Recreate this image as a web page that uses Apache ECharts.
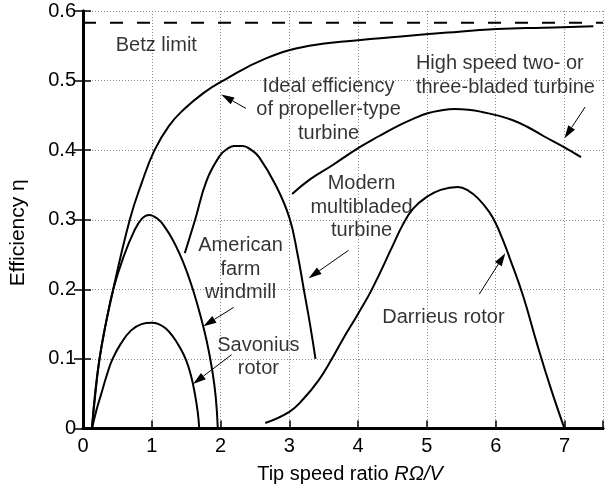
<!DOCTYPE html>
<html>
<head>
<meta charset="utf-8">
<script src="https://cdn.jsdelivr.net/npm/echarts@6/dist/echarts.min.js"></script>
<style>
  html, body { margin: 0; padding: 0; background: #fff; }
  #chart { width: 606px; height: 490px; }
</style>
</head>
<body>
<div id="chart"></div>
<script>
// Rotor efficiency versus tip speed ratio (x = R*Omega/V, y = efficiency)
const betzLimit = 0.583;

const idealPropeller = [
  [0.13, 0], [0.24, 0.1], [0.44, 0.2], [0.68, 0.3], [0.85, 0.352], [1.04, 0.4],
  [1.25, 0.435], [1.46, 0.458], [1.75, 0.482], [2.04, 0.5], [2.66, 0.532],
  [3.29, 0.55], [4.0, 0.558], [4.58, 0.563], [5.3, 0.569], [6.02, 0.574],
  [6.7, 0.576], [7.42, 0.578]
];

const americanFarm = [
  [0.13, 0], [0.18, 0.05], [0.24, 0.1], [0.33, 0.15], [0.44, 0.2], [0.59, 0.247],
  [0.75, 0.285], [0.86, 0.302], [0.96, 0.307], [1.1, 0.3], [1.2, 0.288],
  [1.3, 0.272], [1.4, 0.252], [1.5, 0.228], [1.6, 0.199], [1.7, 0.165],
  [1.8, 0.125], [1.88, 0.083], [1.93, 0.045], [1.96, 0]
];

const savonius = [
  [0.13, 0], [0.2, 0.028], [0.26, 0.048], [0.35, 0.078], [0.43, 0.1],
  [0.55, 0.122], [0.7, 0.141], [0.85, 0.15], [1.0, 0.152], [1.1, 0.15],
  [1.2, 0.144], [1.3, 0.133], [1.4, 0.118], [1.5, 0.098], [1.57, 0.076],
  [1.63, 0.048], [1.67, 0.022], [1.69, 0]
];

const modernMulti = [
  [1.48, 0.252], [1.63, 0.3], [1.8, 0.357], [1.99, 0.392], [2.1, 0.402],
  [2.2, 0.406], [2.32, 0.406], [2.45, 0.4], [2.56, 0.39], [2.8, 0.35],
  [3.0, 0.303], [3.12, 0.25], [3.21, 0.2], [3.3, 0.15], [3.38, 0.1]
];

const highSpeed = [
  [3.04, 0.337], [3.3, 0.358], [3.62, 0.378], [4.0, 0.403], [4.3, 0.42],
  [4.58, 0.435], [4.8, 0.445], [5.01, 0.453], [5.2, 0.457], [5.4, 0.459],
  [5.6, 0.458], [5.8, 0.455], [6.02, 0.45], [6.25, 0.443], [6.45, 0.434],
  [6.7, 0.42], [6.98, 0.405], [7.24, 0.39]
];

const darrieus = [
  [2.65, 0.008], [3.0, 0.024], [3.2, 0.042], [3.43, 0.07], [3.6, 0.097],
  [3.77, 0.127], [4.0, 0.165], [4.2, 0.2], [4.5, 0.262], [4.65, 0.293],
  [4.8, 0.316], [5.0, 0.333], [5.2, 0.343], [5.45, 0.347], [5.6, 0.342],
  [5.75, 0.33], [5.9, 0.312], [6.0, 0.295], [6.1, 0.272], [6.2, 0.246],
  [6.4, 0.19], [6.6, 0.122], [6.8, 0.058], [7.0, 0]
];

// Callout texts and the data point each one is anchored on
const calloutTexts = [
  'Betz limit',
  'Ideal efficiency\nof propeller-type\nturbine',
  'High speed two- or\nthree-bladed turbine',
  'Modern\nmultibladed\nturbine',
  'American\nfarm\nwindmill',
  'Savonius\nrotor',
  'Darrieus rotor'
];
const calloutAnchors = [
  [1.066, 0.551], [3.57, 0.458], [4.84, 0.507], [4.05, 0.318],
  [2.29, 0.229], [2.55, 0.103], [5.24, 0.160]
];
const calloutAlign = ['center', 'center', 'left', 'center', 'center', 'center', 'center'];

// Pointer arrows: [tailX, tailY, tipX, tipY]
const pointerArrows = [
  [2.37, 0.46, 2.01, 0.48],
  [7.30, 0.462, 7.0, 0.417],
  [3.86, 0.256, 3.28, 0.216],
  [2.19, 0.174, 1.75, 0.147],
  [2.16, 0.106, 1.60, 0.064],
  [5.76, 0.193, 6.14, 0.252]
];

const X_MAX = 7.56;
const FONT = 'Liberation Sans, Arial, Helvetica, sans-serif';

const chart = echarts.init(document.getElementById('chart'), null, { renderer: 'canvas' });

function curve(data) {
  return {
    type: 'line',
    data: data,
    smooth: 0.45,
    symbol: 'none',
    lineStyle: { color: '#000', width: 2 },
    z: 5,
    silent: true
  };
}

const dotted = { type: [1, 2], color: '#8a8a8a', width: 1 };

chart.setOption({
  animation: false,
  backgroundColor: '#fff',
  textStyle: { fontFamily: FONT, color: '#000' },
  grid: { left: 82, top: 11, width: 525, height: 417.5 },
  xAxis: [
    {
      type: 'value', min: 0, max: X_MAX, interval: 1, position: 'bottom',
      name: 'Tip speed ratio {i|RΩ/V}',
      nameLocation: 'middle', nameGap: 36,
      nameTextStyle: {
        fontSize: 20, fontFamily: FONT, color: '#000', padding: [0, 0, 0, 14],
        rich: { i: { fontStyle: 'italic', fontSize: 20, fontFamily: FONT, color: '#000' } }
      },
      axisLine: { lineStyle: { color: '#000', width: 3 } },
      axisTick: { inside: true, length: 8, lineStyle: { color: '#000', width: 1.5 } },
      axisLabel: {
        fontSize: 20, color: '#000', fontFamily: FONT, margin: 8,
        formatter: v => (Math.abs(v - Math.round(v)) < 1e-9 ? String(Math.round(v)) : '')
      },
      splitLine: { show: true, lineStyle: dotted }
    },
    {
      type: 'value', min: 0, max: X_MAX, position: 'top',
      axisLine: { show: true, lineStyle: { color: '#000', width: 2.5 } },
      axisTick: { show: false }, axisLabel: { show: false }, splitLine: { show: false }
    }
  ],
  yAxis: [
    {
      type: 'value', min: 0, max: 0.6, interval: 0.1, position: 'left',
      name: 'Efficiency η', nameLocation: 'middle', nameGap: 54, nameRotate: 90,
      nameTextStyle: { fontSize: 21, fontFamily: FONT, color: '#000', padding: [0, 26, 0, 0] },
      axisLine: { show: true, lineStyle: { color: '#000', width: 3 } },
      axisTick: { show: true, inside: true, length: 8, lineStyle: { color: '#000', width: 1.5 } },
      axisLabel: { fontSize: 20, color: '#000', fontFamily: FONT, margin: 7 },
      splitLine: { show: true, lineStyle: dotted }
    },
    {
      type: 'value', min: 0, max: 0.6, interval: 0.1, position: 'right',
      axisLine: { show: true, lineStyle: { color: '#000', width: 3 } },
      axisTick: { show: true, inside: true, length: 9, lineStyle: { color: '#000', width: 1.5 } },
      axisLabel: { show: false }, splitLine: { show: false }
    }
  ],
  series: [
    {
      type: 'line',
      data: [[0, betzLimit], [X_MAX, betzLimit]],
      symbol: 'none',
      lineStyle: { color: '#000', width: 2, type: [13, 14] },
      z: 4, silent: true
    },
    curve(idealPropeller),
    curve(americanFarm),
    curve(savonius),
    curve(modernMulti),
    curve(highSpeed),
    curve(darrieus),
    {
      type: 'custom',
      data: pointerArrows,
      encode: { x: [0, 2], y: [1, 3] },
      silent: true,
      z: 6,
      renderItem: function (params, api) {
        const a = api.coord([api.value(0), api.value(1)]);
        const b = api.coord([api.value(2), api.value(3)]);
        const dx = b[0] - a[0], dy = b[1] - a[1];
        const len = Math.sqrt(dx * dx + dy * dy);
        const ux = dx / len, uy = dy / len;
        const headLen = 13, headHalf = 4;
        const bx = b[0] - ux * headLen, by = b[1] - uy * headLen;
        return {
          type: 'group',
          children: [
            {
              type: 'line',
              shape: { x1: a[0], y1: a[1], x2: bx, y2: by },
              style: { stroke: '#000', lineWidth: 1 }
            },
            {
              type: 'polygon',
              shape: {
                points: [
                  [b[0], b[1]],
                  [bx - uy * headHalf, by + ux * headHalf],
                  [bx + uy * headHalf, by - ux * headHalf]
                ]
              },
              style: { fill: '#000' }
            }
          ]
        };
      }
    },
    {
      type: 'scatter',
      symbolSize: 0,
      silent: true,
      z: 7,
      data: calloutTexts.map((t, i) => ({
        name: t,
        value: calloutAnchors[i],
        label: calloutAlign[i] === 'left'
          ? { position: 'right', distance: 0, align: 'left' }
          : { position: 'inside', align: 'center' }
      })),
      label: {
        show: true,
        formatter: p => p.name,
        fontSize: 20,
        lineHeight: 23.5,
        fontFamily: FONT,
        color: '#000'
      }
    }
  ]
});
</script>
</body>
</html>
